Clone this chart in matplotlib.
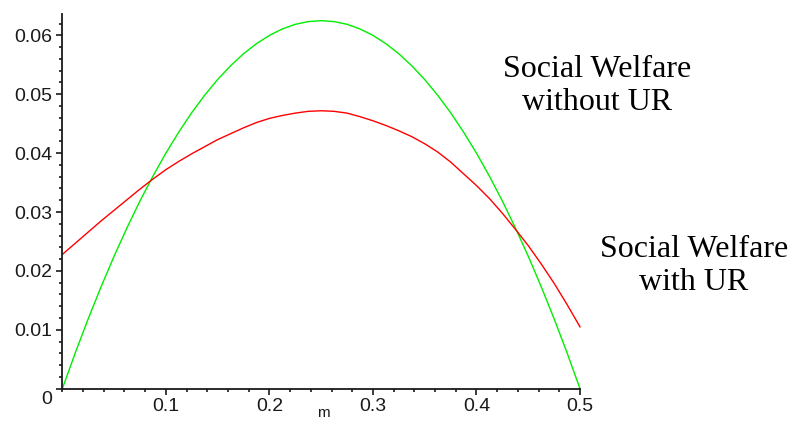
import numpy as np
import matplotlib
matplotlib.use('Agg')
from matplotlib import pyplot as plt
from matplotlib.ticker import MultipleLocator, FixedLocator
import matplotlib.transforms as mtransforms

# values, m = 0 .. 0.5 step 0.0125
m = [0.0, 0.0125, 0.025, 0.0375, 0.05, 0.0625, 0.075, 0.0875, 0.1, 0.1125,
     0.125, 0.1375, 0.15, 0.1625, 0.175, 0.1875, 0.2, 0.2125, 0.225, 0.2375,
     0.25, 0.2625, 0.275, 0.2875, 0.3, 0.3125, 0.325, 0.3375, 0.35, 0.3625,
     0.375, 0.3875, 0.4, 0.4125, 0.425, 0.4375, 0.45, 0.4625, 0.475, 0.4875,
     0.5]
welfare_without_ur = [0.0, 0.00609, 0.01188, 0.01734, 0.0225, 0.02734,
                      0.03188, 0.03609, 0.04, 0.04359, 0.04688, 0.04984,
                      0.0525, 0.05484, 0.05688, 0.05859, 0.06, 0.06109,
                      0.06188, 0.06234, 0.0625, 0.06234, 0.06188, 0.06109,
                      0.06, 0.05859, 0.05688, 0.05484, 0.0525, 0.04984,
                      0.04688, 0.04359, 0.04, 0.03609, 0.03188, 0.02734,
                      0.0225, 0.01734, 0.01188, 0.00609, 0.0]
welfare_with_ur = [0.0228, 0.0247, 0.0266, 0.0285, 0.0303, 0.0321, 0.0339,
                   0.0356, 0.0372, 0.0386, 0.0399, 0.0411, 0.0423, 0.0433,
                   0.0443, 0.0452, 0.0459, 0.0464, 0.0468, 0.0471, 0.0472,
                   0.0471, 0.0468, 0.0462, 0.0455, 0.0447, 0.0438, 0.0428,
                   0.0416, 0.0402, 0.0385, 0.0365, 0.0345, 0.0323, 0.0298,
                   0.0271, 0.0243, 0.0212, 0.0179, 0.0143, 0.0105]
x_ticks = [0.1, 0.2, 0.3, 0.4, 0.5]
x_labels = ['0.1', '0.2', '0.3', '0.4', '0.5']
y_ticks = [0, 0.01, 0.02, 0.03, 0.04, 0.05, 0.06]
y_labels = ['0', '0.01', '0.02', '0.03', '0.04', '0.05', '0.06']

plt.rcParams['font.family'] = ['Liberation Sans', 'DejaVu Sans']

fig = plt.figure(figsize=(7.93, 4.22), dpi=100)
ax = fig.add_axes([0.0786, 0.0789, 0.6528, 0.8875])

ax.plot(m, welfare_without_ur, color='#00ee00', lw=1.0, clip_on=False)
ax.plot(m, welfare_with_ur, color='#ff0000', lw=1.0, clip_on=False)

ax.set_xlim(0, 0.5)
ax.set_ylim(0, 0.0636)
for s in ['top', 'right']:
    ax.spines[s].set_visible(False)
for s in ['left', 'bottom']:
    ax.spines[s].set_linewidth(1.3)
    ax.spines[s].set_color('#1a1a1a')

ax.xaxis.set_major_locator(FixedLocator(x_ticks))
ax.set_xticklabels(x_labels)
ax.xaxis.set_minor_locator(MultipleLocator(0.02))
ax.yaxis.set_major_locator(FixedLocator(y_ticks))
ax.set_yticklabels(y_labels)
ax.yaxis.set_minor_locator(MultipleLocator(0.002))
ax.tick_params(which='major', length=4.5, width=1.2, color='#1a1a1a',
               labelsize=14, labelcolor='#1a1a1a', pad=2.5)
ax.tick_params(which='minor', length=2.5, width=1.2, color='#1a1a1a')

# the 0 label sits a bit below the axis in the original
lab0 = ax.get_yticklabels()[0]
lab0.set_transform(lab0.get_transform() +
                   mtransforms.ScaledTranslation(0, -6 / 72, fig.dpi_scale_trans))

fig.text(323 / 793, 1 - 413 / 422, 'm', ha='center', va='center',
         fontsize=11, color='#1a1a1a')

fig.text(597 / 793, 1 - 110 / 422, 'Social Welfare\nwithout UR',
         ha='center', va='baseline', multialignment='center',
         family='Liberation Serif', fontsize=23, color='black')
fig.text(694 / 793, 1 - 290 / 422, 'Social Welfare\nwith UR',
         ha='center', va='baseline', multialignment='center',
         family='Liberation Serif', fontsize=23, color='black')

fig.savefig('out.png', dpi=100, facecolor='white')
